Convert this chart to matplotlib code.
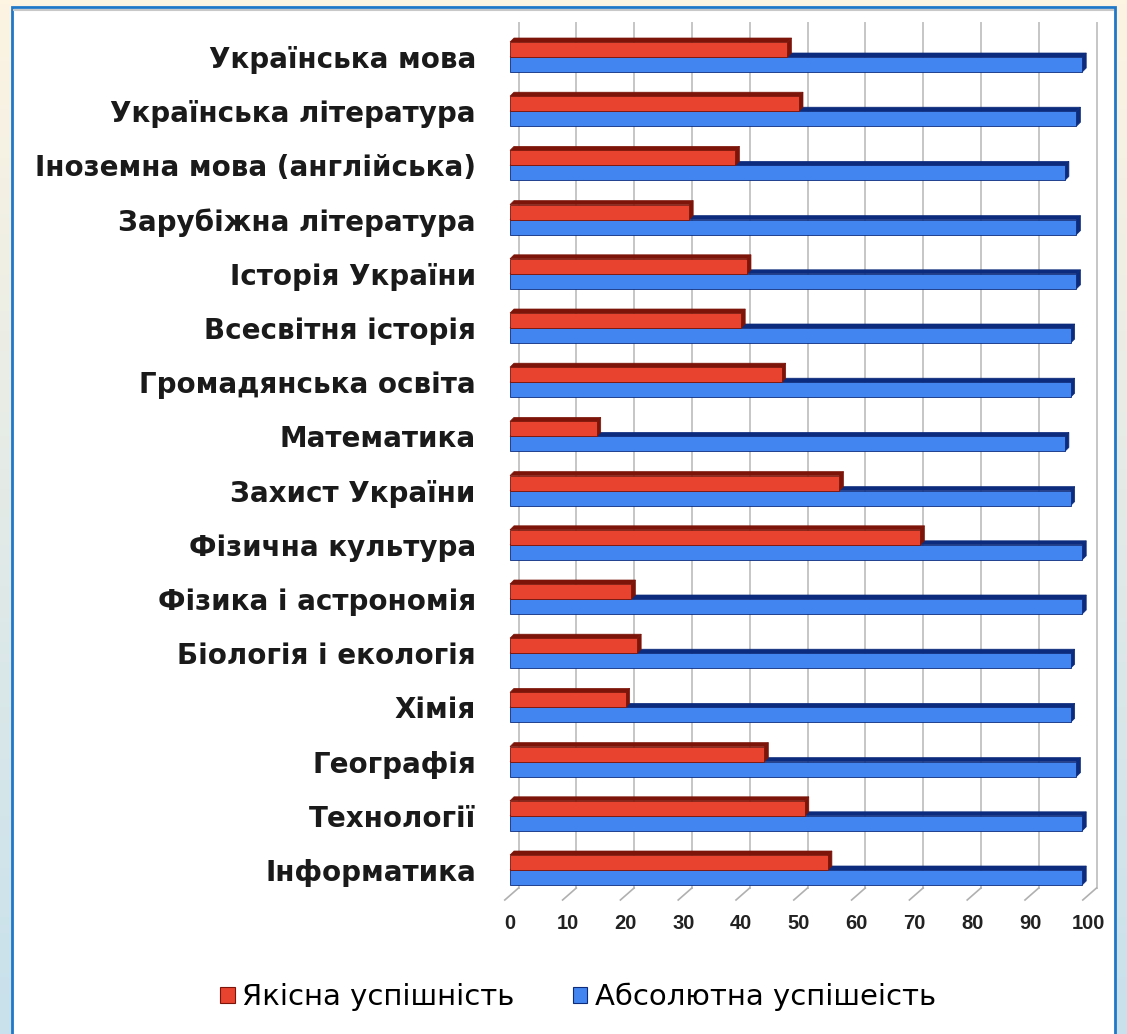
import numpy as np
import matplotlib
matplotlib.use("Agg")
import matplotlib.pyplot as plt
from matplotlib.patches import Patch, Rectangle, Polygon

# subjects, top to bottom
subjects = [
    "Українська мова",
    "Українська література",
    "Іноземна мова (англійська)",
    "Зарубіжна література",
    "Історія України",
    "Всесвітня історія",
    "Громадянська освіта",
    "Математика",
    "Захист України",
    "Фізична культура",
    "Фізика і астрономія",
    "Біологія і екологія",
    "Хімія",
    "Географія",
    "Технології",
    "Інформатика",
]
quality = [48, 50, 39, 31, 41, 40, 47, 15, 57, 71, 21, 22, 20, 44, 51, 55]
absolute = [99, 98, 96, 98, 98, 97, 97, 96, 97, 99, 99, 97, 97, 98, 99, 99]
xticks = [0, 10, 20, 30, 40, 50, 60, 70, 80, 90, 100]
legend_labels = ["Якісна успішність", "Абсолютна успішеість"]

RED, RED_DARK = "#e8432f", "#7c1409"
BLUE, BLUE_DARK = "#4285f0", "#0c2b7c"

W, H = 1127, 1034
plt.rcParams["font.family"] = ["DejaVu Sans"]
fig = plt.figure(figsize=(W / 100, H / 100), dpi=100)

# background gradient + white panel
bg = fig.add_axes([0, 0, 1, 1], zorder=-10)
grad = np.linspace(0, 1, 256)[:, None]
top_c = np.array([253, 244, 226]) / 255
bot_c = np.array([200, 225, 236]) / 255
img = top_c[None, None, :] * (1 - grad[:, :, None]) + bot_c[None, None, :] * grad[:, :, None]
bg.imshow(np.repeat(img, 2, axis=1), aspect="auto", extent=[0, W, H, 0])
bg.add_patch(Rectangle((12, 7), 1103, 1040, facecolor="white",
                       edgecolor="#1f78c8", lw=2))
bg.plot([14, 1113], [10, 10], color="#c8c8c8", lw=1.5)
bg.set_xlim(0, W)
bg.set_ylim(H, 0)
bg.axis("off")


def px_axes(left, top, right, bottom):
    return [left / W, 1 - bottom / H, (right - left) / W, (bottom - top) / H]


# front plane: x 0 -> 510px, 5.78 px per unit; groups from 57px, 54.2px apart
ax = fig.add_axes(px_axes(505, 15, 1112, 900))
sx, sy = 5.78, 54.2
ax.set_xlim(-5 / sx, (1112 - 510) / sx)
ax.set_ylim((900 - 57) / sy, (15 - 57) / sy)
ax.patch.set_alpha(0)
for s in ax.spines.values():
    s.set_visible(False)

y = np.arange(len(subjects))
bh = 15 / sy
dx, dy = 4 / sx, 4 / sy
back = 8.5 / sx

# back wall grid lines and floor ticks
for t in xticks:
    ax.plot([t + back, t + back], [(23 - 57) / sy, (888 - 57) / sy],
            color="#c6c6c6", lw=1.4, zorder=0, clip_on=False)
    ax.plot([t - 0.9, t + back], [(900 - 57) / sy, (888 - 57) / sy],
            color="#b0b0b0", lw=1.2, zorder=0, clip_on=False)


def bar3d(yc, w, face, dark):
    top = yc - bh / 2
    bot = yc + bh / 2
    ax.add_patch(Polygon([(0, top), (dx, top - dy), (w + dx, top - dy), (w, top)],
                         closed=True, facecolor=dark, edgecolor=dark, lw=0.5, zorder=2))
    ax.add_patch(Polygon([(w, top), (w + dx, top - dy), (w + dx, bot - dy), (w, bot)],
                         closed=True, facecolor=dark, edgecolor=dark, lw=0.5, zorder=2))
    ax.add_patch(Rectangle((0, top), w, bh, facecolor=face, edgecolor=dark,
                           lw=0.6, zorder=2))


for i in range(len(subjects)):
    bar3d(y[i] + bh / 2, absolute[i], BLUE, BLUE_DARK)
    bar3d(y[i] - bh / 2, quality[i], RED, RED_DARK)

ax.set_yticks(y)
ax.set_yticklabels(subjects, fontsize=20, fontweight="bold", color="#1a1a1a")
ax.set_xticks(xticks)
ax.set_xticklabels([str(t) for t in xticks], fontsize=14.5, fontweight="bold",
                   color="#222222", family="Liberation Sans")
ax.tick_params(axis="y", length=0, pad=21)
ax.tick_params(axis="x", length=0, pad=10)

handles = [Patch(facecolor=RED, edgecolor=RED_DARK, lw=0.8),
           Patch(facecolor=BLUE, edgecolor=BLUE_DARK, lw=0.8)]
fig.legend(handles, legend_labels, loc="center", ncol=2,
           bbox_to_anchor=(578 / W, 1 - 997 / H), frameon=False,
           prop={"size": 21}, handlelength=0.5, handleheight=0.5,
           handletextpad=0.25, columnspacing=2.0)

fig.savefig("out.png", dpi=100)
